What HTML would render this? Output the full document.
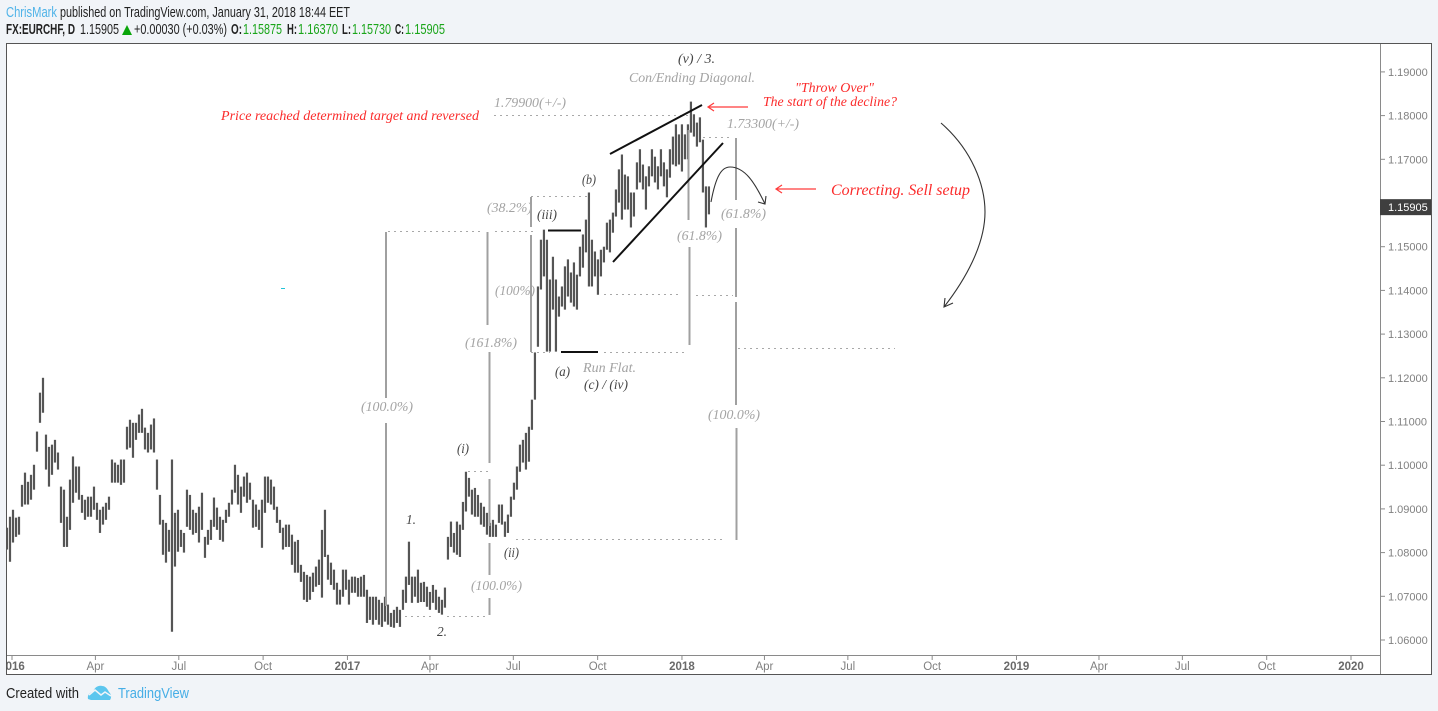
<!DOCTYPE html>
<html lang="en">
<head>
<meta charset="utf-8">
<title>EURCHF daily chart</title>
<style>
html,body{margin:0;padding:0;background:#f1f4f8;width:1438px;height:711px;overflow:hidden}
svg{display:block}
.hd{font-family:"Liberation Sans",sans-serif;font-size:14.5px;fill:#222}
.hb{font-weight:bold}
.gr{fill:#1aa51a}
.an{font-family:"Liberation Serif",serif;font-style:italic;font-size:14px}
.g{fill:#a3a3a3}
.d{fill:#444}
.r{fill:#fb2b2b}
.vl{stroke:#a0a0a0;stroke-width:2;fill:none}
.dl{stroke:#a8a8a8;stroke-width:1;stroke-dasharray:2 4;fill:none}
.bl{stroke:#111;stroke-width:2;fill:none}
.ra{stroke:#ff3b3b;stroke-width:1.2;fill:none}
.ca{stroke:#333;stroke-width:1.1;fill:none}
.ax{font-family:"Liberation Sans",sans-serif;font-size:11px;fill:#808080}
.tx{font-family:"Liberation Sans",sans-serif;font-size:11.5px;fill:#808080}
</style>
</head>
<body>
<svg id="chart" xmlns="http://www.w3.org/2000/svg" width="1438" height="711" viewBox="0 0 1438 711">
  <defs>
    <clipPath id="pane-clip"><rect x="7" y="44" width="1424" height="630"/></clipPath>
    <filter id="soft" x="-5%" y="-5%" width="110%" height="110%"><feGaussianBlur stdDeviation="0.35"/></filter>
  </defs>
  <rect x="0" y="0" width="1438" height="711" fill="#f1f4f8"/>

  <text class="hd" x="6" y="17" textLength="51" lengthAdjust="spacingAndGlyphs" style="fill:#4fb3e8">ChrisMark</text>
  <text class="hd" x="60" y="17" textLength="290" lengthAdjust="spacingAndGlyphs">published on TradingView.com, January 31, 2018 18:44 EET</text>
  <text class="hd hb" x="6" y="34" textLength="69" lengthAdjust="spacingAndGlyphs">FX:EURCHF, D</text>
  <text class="hd" x="80" y="34" textLength="39" lengthAdjust="spacingAndGlyphs">1.15905</text>
  <polygon points="122,35 132,35 127,25" fill="#0aa50a"/>
  <text class="hd" x="134" y="34" textLength="93" lengthAdjust="spacingAndGlyphs">+0.00030 (+0.03%)</text>
  <text class="hd hb" x="231" y="34" textLength="11" lengthAdjust="spacingAndGlyphs">O:</text>
  <text class="hd gr" x="243" y="34" textLength="39" lengthAdjust="spacingAndGlyphs">1.15875</text>
  <text class="hd hb" x="287" y="34" textLength="10" lengthAdjust="spacingAndGlyphs">H:</text>
  <text class="hd gr" x="298" y="34" textLength="40" lengthAdjust="spacingAndGlyphs">1.16370</text>
  <text class="hd hb" x="342" y="34" textLength="9" lengthAdjust="spacingAndGlyphs">L:</text>
  <text class="hd gr" x="352" y="34" textLength="39" lengthAdjust="spacingAndGlyphs">1.15730</text>
  <text class="hd hb" x="395" y="34" textLength="9" lengthAdjust="spacingAndGlyphs">C:</text>
  <text class="hd gr" x="405" y="34" textLength="40" lengthAdjust="spacingAndGlyphs">1.15905</text>

  <rect x="6.5" y="43.5" width="1425" height="631" fill="#fff" stroke="#555" stroke-width="1"/>
  <line x1="7" y1="655.5" x2="1380" y2="655.5" stroke="#8a8a8a" stroke-width="1"/>
  <line x1="1380.5" y1="44" x2="1380.5" y2="674" stroke="#8a8a8a" stroke-width="1"/>

  <g id="time-axis" clip-path="url(#pane-clip)"></g>
  <g id="price-axis"></g>
  <g clip-path="url(#pane-clip)"><g id="bars" filter="url(#soft)"></g></g>

  <g>
    <path class="vl" d="M386,232V398M386,423V606"/>
    <path class="vl" d="M487.5,232V325M489.5,352V463M489.5,479V526M489.5,543V575M489.5,598V615"/>
    <path class="vl" d="M531,197V227M531,235V352"/>
    <path class="vl" d="M688.5,130V220M689.5,247V345"/>
    <path class="vl" d="M736,138V200M736,228V297M736,302V405M736.5,428V540"/>
  </g>
  <g>
    <path class="dl" d="M388,231.5H480M495,231.5H535"/>
    <path class="dl" d="M494,115.5H690"/>
    <path class="dl" d="M531,196.5H588"/>
    <path class="dl" d="M703,137.5H732"/>
    <path class="dl" d="M604,294.5H682M696,295.5H733"/>
    <path class="dl" d="M531,352.5H550M604,352.5H686"/>
    <path class="dl" d="M738,348.5H895"/>
    <path class="dl" d="M516,539.5H725"/>
    <path class="dl" d="M468,471.5H488"/>
    <path class="dl" d="M405,616.5H435M447,616.5H487"/>
  </g>
  <g>
    <line class="bl" x1="548" y1="230.5" x2="581" y2="230.5"/>
    <line class="bl" x1="561" y1="352" x2="598" y2="352"/>
    <line class="bl" x1="610" y1="154" x2="702" y2="105"/>
    <line class="bl" x1="613" y1="262" x2="723" y2="143"/>
  </g>
  <g>
    <path class="ra" d="M748,107H708M714,103L708,107L714,111"/>
    <path class="ra" d="M816,189H776M782,185L776,189L782,193"/>
    <path class="ca" d="M711,202C716,175 722,167 730,167C745,167 755,183 765,204M758,202L765,204L766,196"/>
    <path class="ca" d="M941,123C972,150 985,185 985,212C985,245 965,280 944,307M945,298L944,307L953,303"/>
  </g>
  <rect x="281" y="288" width="4" height="1" fill="#22c4d8"/>

  <g>
    <text class="an d" x="678" y="63" textLength="37" lengthAdjust="spacingAndGlyphs">(v) / 3.</text>
    <text class="an g" x="629" y="82" textLength="126" lengthAdjust="spacingAndGlyphs">Con/Ending Diagonal.</text>
    <text class="an r" x="795" y="92" textLength="79" lengthAdjust="spacingAndGlyphs">"Throw Over"</text>
    <text class="an r" x="763" y="106" textLength="134" lengthAdjust="spacingAndGlyphs">The start of the decline?</text>
    <text class="an r" x="221" y="120" textLength="258" lengthAdjust="spacingAndGlyphs">Price reached determined target and reversed</text>
    <text class="an g" x="494" y="107" textLength="72" lengthAdjust="spacingAndGlyphs">1.79900(+/-)</text>
    <text class="an g" x="727" y="128" textLength="72" lengthAdjust="spacingAndGlyphs">1.73300(+/-)</text>
    <text class="an r" style="font-size:15.5px" x="831" y="195" textLength="139" lengthAdjust="spacingAndGlyphs">Correcting. Sell setup</text>
    <text class="an g" x="487" y="212" textLength="45" lengthAdjust="spacingAndGlyphs">(38.2%)</text>
    <text class="an d" x="582" y="184" textLength="14" lengthAdjust="spacingAndGlyphs">(b)</text>
    <text class="an d" x="537" y="219" textLength="20" lengthAdjust="spacingAndGlyphs">(iii)</text>
    <text class="an g" x="495" y="295" textLength="40" lengthAdjust="spacingAndGlyphs">(100%)</text>
    <text class="an g" x="465" y="347" textLength="52" lengthAdjust="spacingAndGlyphs">(161.8%)</text>
    <text class="an g" x="677" y="240" textLength="45" lengthAdjust="spacingAndGlyphs">(61.8%)</text>
    <text class="an g" x="721" y="218" textLength="45" lengthAdjust="spacingAndGlyphs">(61.8%)</text>
    <text class="an g" x="583" y="372" textLength="53" lengthAdjust="spacingAndGlyphs">Run Flat.</text>
    <text class="an d" x="555" y="376" textLength="15" lengthAdjust="spacingAndGlyphs">(a)</text>
    <text class="an d" x="584" y="389" textLength="44" lengthAdjust="spacingAndGlyphs">(c) / (iv)</text>
    <text class="an g" x="361" y="411" textLength="52" lengthAdjust="spacingAndGlyphs">(100.0%)</text>
    <text class="an g" x="708" y="419" textLength="52" lengthAdjust="spacingAndGlyphs">(100.0%)</text>
    <text class="an d" x="457" y="453" textLength="12" lengthAdjust="spacingAndGlyphs">(i)</text>
    <text class="an d" x="406" y="524" textLength="10" lengthAdjust="spacingAndGlyphs">1.</text>
    <text class="an d" x="504" y="557" textLength="15" lengthAdjust="spacingAndGlyphs">(ii)</text>
    <text class="an g" x="471" y="590" textLength="51" lengthAdjust="spacingAndGlyphs">(100.0%)</text>
    <text class="an d" x="437" y="636" textLength="10" lengthAdjust="spacingAndGlyphs">2.</text>
  </g>

  <text class="hd" x="6" y="698" textLength="73" lengthAdjust="spacingAndGlyphs" style="fill:#222">Created with</text>
  <g>
    <path d="M88,699C87,695 90,692 93,692C94,688 98,685 102,686C106,686 108,690 109,692C111,694 112,697 110,700H91Z" fill="#5cc6ee"/>
    <path d="M89,695L95,690L101,695L105,692L111,696" fill="none" stroke="#f1f4f8" stroke-width="1.5"/>
  </g>
  <text class="hd" x="118" y="698" textLength="71" lengthAdjust="spacingAndGlyphs" style="fill:#46aee6">TradingView</text>
</svg>
<script>
const barHighs = [
1.0857,1.0882,1.0898,1.0880,1.0882,1.0955,1.0983,1.0962,1.0978,1.1001,1.1077,1.1166,1.1200,1.1070,1.1042,1.1047,
1.1058,1.1029,1.0951,1.0944,1.0882,1.0967,1.1020,1.0997,1.0997,1.0932,1.0921,1.0928,1.0928,1.0951,1.0914,1.0898,
1.0905,1.0914,1.0928,1.1013,1.1006,1.1001,1.1013,1.1013,1.1088,1.1104,1.1097,1.1097,1.1116,1.1129,1.1086,1.1074,
1.1093,1.1107,1.1013,1.0932,1.0875,1.0868,1.0852,1.1013,1.0891,1.0898,1.0852,1.0845,1.0944,1.0932,1.0898,1.0891,
1.0905,1.0937,1.0836,1.0852,1.0875,1.0926,1.0903,1.0882,1.0875,1.0898,1.0914,1.0944,1.1001,1.0978,1.0951,1.0974,
1.0983,1.0960,1.0921,1.0910,1.0898,1.0921,1.0974,1.0974,1.0967,1.0951,1.0905,1.0875,1.0857,1.0864,1.0864,1.0841,
1.0825,1.0829,1.0772,1.0756,1.0749,1.0745,1.0754,1.0768,1.0784,1.0852,1.0898,1.0795,1.0777,1.0761,1.0731,1.0715,
1.0761,1.0761,1.0738,1.0745,1.0745,1.0742,1.0745,1.0749,1.0715,1.0699,1.0699,1.0699,1.0692,1.0685,1.0699,1.0681,
1.0662,1.0669,1.0676,1.0669,1.0715,1.0745,1.0825,1.0745,1.0745,1.0761,1.0731,1.0733,1.0722,1.0710,1.0726,1.0715,
1.0699,1.0692,1.0720,1.0836,1.0871,1.0845,1.0871,1.0864,1.0916,1.0985,1.0971,1.0944,1.0948,1.0932,1.0914,1.0905,
1.0891,1.0868,1.0875,1.0864,1.0910,1.0910,1.0871,1.0887,1.0928,1.0960,1.0997,1.1047,1.1058,1.1074,1.1088,1.1150,
1.1258,1.1409,1.1516,1.1539,1.1516,1.1425,1.1477,1.1425,1.1386,1.1409,1.1455,1.1471,1.1441,1.1464,1.1436,1.1500,
1.1528,1.1562,1.1624,1.1516,1.1489,1.1471,1.1493,1.1500,1.1555,1.1562,1.1578,1.1631,1.1677,1.1711,1.1665,1.1661,
1.1624,1.1624,1.1693,1.1723,1.1688,1.1661,1.1684,1.1723,1.1706,1.1684,1.1723,1.1693,1.1677,1.1723,1.1752,1.1780,
1.1757,1.1780,1.1757,1.1780,1.1832,1.1803,1.1784,1.1796,1.1745,1.1638,1.1638
];
const barLows = [
1.0807,1.0779,1.0823,1.0836,1.0841,1.0905,1.0910,1.0910,1.0921,1.0944,1.1031,1.1097,1.1120,1.0990,1.0951,1.0978,
1.1006,1.0990,1.0868,1.0813,1.0813,1.0852,1.0914,1.0937,1.0921,1.0891,1.0875,1.0882,1.0882,1.0898,1.0875,1.0845,
1.0864,1.0875,1.0898,1.0960,1.0960,1.0960,1.0955,1.0960,1.1036,1.1040,1.1017,1.1058,1.1074,1.1074,1.1036,1.1029,
1.1036,1.1029,1.0944,1.0864,1.0795,1.0777,1.0802,1.0619,1.0768,1.0802,1.0813,1.0800,1.0859,1.0852,1.0841,1.0845,
1.0823,1.0852,1.0788,1.0818,1.0829,1.0859,1.0852,1.0829,1.0825,1.0868,1.0882,1.0910,1.0937,1.0910,1.0891,1.0928,
1.0914,1.0921,1.0857,1.0859,1.0852,1.0811,1.0891,1.0914,1.0910,1.0898,1.0868,1.0845,1.0807,1.0813,1.0813,1.0772,
1.0754,1.0754,1.0733,1.0692,1.0687,1.0692,1.0710,1.0722,1.0726,1.0697,1.0790,1.0738,1.0726,1.0715,1.0681,1.0681,
1.0699,1.0715,1.0681,1.0708,1.0708,1.0699,1.0699,1.0699,1.0639,1.0646,1.0635,1.0646,1.0635,1.0630,1.0642,1.0635,
1.0630,1.0628,1.0639,1.0630,1.0669,1.0685,1.0726,1.0685,1.0699,1.0685,1.0687,1.0687,1.0676,1.0669,1.0685,1.0669,
1.0662,1.0658,1.0674,1.0784,1.0813,1.0800,1.0795,1.0790,1.0852,1.0894,1.0928,1.0887,1.0882,1.0882,1.0864,1.0859,
1.0841,1.0836,1.0836,1.0836,1.0868,1.0864,1.0836,1.0845,1.0882,1.0921,1.0944,1.0985,1.1006,1.0990,1.1008,1.1081,
1.1150,1.1271,1.1402,1.1432,1.1260,1.1260,1.1356,1.1260,1.1340,1.1363,1.1356,1.1386,1.1372,1.1363,1.1356,1.1432,
1.1452,1.1487,1.1409,1.1409,1.1432,1.1390,1.1432,1.1464,1.1493,1.1487,1.1532,1.1569,1.1601,1.1562,1.1585,1.1585,
1.1544,1.1569,1.1631,1.1647,1.1631,1.1585,1.1638,1.1661,1.1647,1.1631,1.1661,1.1638,1.1613,1.1658,1.1688,1.1684,
1.1688,1.1672,1.1700,1.1700,1.1761,1.1752,1.1729,1.1739,1.1624,1.1544,1.1574
];
const priceTicks = [1.06,1.07,1.08,1.09,1.10,1.11,1.12,1.13,1.14,1.15,1.16,1.17,1.18,1.19];
const timeLabels = ["2016","Apr","Jul","Oct","2017","Apr","Jul","Oct","2018","Apr","Jul","Oct","2019","Apr","Jul","Oct","2020"];
const timeDays = [0,91,182,274,366,456,547,639,731,821,912,1004,1096,1186,1277,1369,1461];
const lastPrice = 1.15905;
const firstBarDay = -5.46;
const daysPerBar = 3.273;

const SVGNS = 'http://www.w3.org/2000/svg';
function yScale(price){ return 640 - (price - 1.06) * 4370; }
function xScale(day){ return 12 + day * 0.9165; }

const barsGroup = document.getElementById('bars');
barHighs.forEach(function(high, i){
  const x = xScale(firstBarDay + i * daysPerBar);
  const line = document.createElementNS(SVGNS, 'line');
  
  
  line.setAttribute('x1', x);
  line.setAttribute('x2', x);
  line.setAttribute('y1', yScale(high));
  line.setAttribute('y2', yScale(barLows[i]));
  line.setAttribute('stroke', '#555');
  line.setAttribute('stroke-width', '2.2');
  barsGroup.appendChild(line);
});

const priceAxis = document.getElementById('price-axis');
priceTicks.forEach(function(p){
  const y = yScale(p);
  const tick = document.createElementNS(SVGNS, 'line');
  
  
  tick.setAttribute('x1', 1381);
  tick.setAttribute('x2', 1385);
  tick.setAttribute('y1', y);
  tick.setAttribute('y2', y);
  tick.setAttribute('stroke', '#8a8a8a');
  priceAxis.appendChild(tick);
  const label = document.createElementNS(SVGNS, 'text');
  
  
  label.setAttribute('class', 'ax');
  label.setAttribute('x', 1388);
  label.setAttribute('y', y + 4);
  label.textContent = p.toFixed(5);
  priceAxis.appendChild(label);
});

const lastTag = document.createElementNS(SVGNS, 'rect');


lastTag.setAttribute('x', 1380);
lastTag.setAttribute('y', yScale(lastPrice) - 8);
lastTag.setAttribute('width', 51);
lastTag.setAttribute('height', 16);
lastTag.setAttribute('fill', '#3f3f3f');
priceAxis.appendChild(lastTag);
const lastText = document.createElementNS(SVGNS, 'text');


lastText.setAttribute('class', 'ax');
lastText.setAttribute('x', 1388);
lastText.setAttribute('y', yScale(lastPrice) + 4);
lastText.setAttribute('style', 'fill:#fff');
lastText.textContent = lastPrice.toFixed(5);
priceAxis.appendChild(lastText);

const timeAxis = document.getElementById('time-axis');
timeLabels.forEach(function(name, i){
  const x = xScale(timeDays[i]);
  const tick = document.createElementNS(SVGNS, 'line');
  
  
  tick.setAttribute('x1', x);
  tick.setAttribute('x2', x);
  tick.setAttribute('y1', 656);
  tick.setAttribute('y2', 660);
  tick.setAttribute('stroke', '#8a8a8a');
  timeAxis.appendChild(tick);
  const label = document.createElementNS(SVGNS, 'text');
  
  
  label.setAttribute('class', 'tx');
  label.setAttribute('x', x);
  label.setAttribute('y', 670);
  label.setAttribute('text-anchor', 'middle');
  if (/^\d/.test(name)) label.setAttribute('style', 'font-weight:bold;fill:#6a6a6a');
  label.textContent = name;
  timeAxis.appendChild(label);
});
</script>
</body>
</html>
